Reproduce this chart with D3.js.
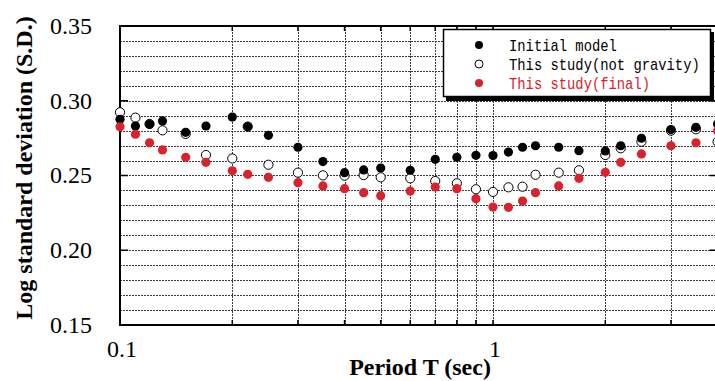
<!DOCTYPE html>
<html>
<head>
<meta charset="utf-8">
<script src="https://cdn.jsdelivr.net/npm/d3@7"></script>
<style>
  body { margin: 0; background: #fff; }
  svg { display: block; }
</style>
</head>
<body>
<svg id="chart"></svg>
<script>
// periods (sec) and log standard deviations
const periods = [0.1, 0.11, 0.12, 0.13, 0.15, 0.17, 0.2, 0.22, 0.25, 0.3, 0.35, 0.4, 0.45, 0.5, 0.6,
  0.7, 0.8, 0.9, 1.0, 1.1, 1.2, 1.3, 1.5, 1.7, 2.0, 2.2, 2.5, 3.0, 3.5, 4.0];
const initialModel = [0.2876, 0.2831, 0.2842, 0.2865, 0.2789, 0.2831, 0.2891, 0.2827, 0.2769, 0.2689,
  0.2593, 0.2519, 0.2537, 0.2550, 0.2535, 0.2608, 0.2622, 0.2635, 0.2633, 0.2657, 0.2689, 0.2699,
  0.2689, 0.2666, 0.2664, 0.2699, 0.2749, 0.2807, 0.2822, 0.2845];
const notGravity = [0.2923, 0.2887, 0.2845, 0.2802, 0.2778, 0.2637, 0.2614, 0.2827, 0.2572, 0.2519,
  0.2501, 0.2499, 0.2503, 0.2488, 0.2481, 0.2463, 0.2448, 0.2408, 0.2390, 0.2421, 0.2425, 0.2505,
  0.2519, 0.2535, 0.2637, 0.2682, 0.2726, 0.2800, 0.2809, 0.2726];
const finalModel = [0.2826, 0.2776, 0.2719, 0.2671, 0.2622, 0.2588, 0.2531, 0.2508, 0.2488, 0.2452,
  0.2430, 0.2412, 0.2385, 0.2365, 0.2396, 0.2423, 0.2412, 0.2345, 0.2289, 0.2287, 0.2329, 0.2385,
  0.2430, 0.2481, 0.2521, 0.2588, 0.2644, 0.2699, 0.2719, 0.2798];

const xGrid = [0.2, 0.3, 0.4, 0.5, 0.6, 0.7, 0.8, 0.9, 1, 2, 3];
const xTickLabels = [0.1, 1];
const yTicks = [0.15, 0.20, 0.25, 0.30, 0.35];
const legendLabels = ["Initial model", "This study(not gravity)", "This study(final)"];

const width = 715;
const height = 381;
const red = "#d9222b";

const svg = d3.select("#chart")
  .attr("width", width)
  .attr("height", height)
  .attr("viewBox", [0, 0, width, height]);

const mLeft = 120, mTop = 26, mBottom = 325;
const decade = 373;
const x = d3.scaleLog().domain([0.1, 4]).range([mLeft, mLeft + decade * Math.log10(40)]);
const y = d3.scaleLinear().domain([0.15, 0.35]).range([mBottom, mTop]);
const mRight = x(4);

// grid
const grid = svg.append("g")
  .attr("stroke", "#3a3a3a")
  .attr("stroke-width", 1)
  .attr("stroke-dasharray", "2,1");

grid.selectAll(".hg")
  .data(d3.range(16, 35).map(d => d / 100))
  .join("line")
  .attr("x1", mLeft).attr("x2", mRight)
  .attr("y1", d => Math.round(y(d)) + 0.5)
  .attr("y2", d => Math.round(y(d)) + 0.5);

grid.selectAll(".vg")
  .data(xGrid)
  .join("line")
  .attr("x1", d => Math.round(x(d)) + 0.5)
  .attr("x2", d => Math.round(x(d)) + 0.5)
  .attr("y1", mTop).attr("y2", mBottom);

// frame
const frame = svg.append("g").attr("stroke", "#000").attr("fill", "none");
frame.append("rect")
  .attr("x", mLeft).attr("y", mTop)
  .attr("width", mRight - mLeft).attr("height", mBottom - mTop)
  .attr("stroke-width", 2);

// inward ticks
frame.selectAll(".yt")
  .data(yTicks)
  .join("path")
  .attr("stroke-width", 1.5)
  .attr("d", d => `M${mLeft},${y(d)}h8M${mRight},${y(d)}h-8`);

frame.selectAll(".xt")
  .data(xGrid)
  .join("path")
  .attr("stroke-width", 1.5)
  .attr("d", d => `M${x(d)},${mBottom}v-5M${x(d)},${mTop}v5`);

// tick labels
svg.append("g")
  .attr("font-family", "'Liberation Serif', 'Times New Roman', serif")
  .attr("font-size", 24)
  .attr("text-anchor", "end")
  .selectAll("text")
  .data(yTicks)
  .join("text")
  .attr("x", 92)
  .attr("y", d => y(d))
  .attr("dy", "0.33em")
  .text(d => d3.format(".2f")(d));

svg.append("g")
  .attr("font-family", "'Liberation Serif', 'Times New Roman', serif")
  .attr("font-size", 24)
  .attr("text-anchor", "middle")
  .selectAll("text")
  .data(xTickLabels)
  .join("text")
  .attr("x", d => x(d) + 2)
  .attr("y", 357)
  .text(d => d);

// axis titles
svg.append("text")
  .attr("x", 420).attr("y", 375)
  .attr("text-anchor", "middle")
  .attr("font-family", "'Liberation Serif', 'Times New Roman', serif")
  .attr("font-weight", "bold")
  .attr("font-size", 24)
  .text("Period T (sec)");

svg.append("text")
  .attr("transform", "translate(32,168) rotate(-90)")
  .attr("text-anchor", "middle")
  .attr("font-family", "'Liberation Serif', 'Times New Roman', serif")
  .attr("font-weight", "bold")
  .attr("font-size", 24)
  .text("Log standard deviation (S.D.)");

// points
const plot = svg.append("g");
const r = 4.6;

plot.append("g").selectAll("circle")
  .data(periods.map((p, i) => [p, notGravity[i]]))
  .join("circle")
  .attr("cx", d => x(d[0])).attr("cy", d => y(d[1])).attr("r", r)
  .attr("fill", "#fff").attr("stroke", "#000").attr("stroke-width", 1);

plot.append("g").selectAll("circle")
  .data(periods.map((p, i) => [p, initialModel[i]]))
  .join("circle")
  .attr("cx", d => x(d[0])).attr("cy", d => y(d[1])).attr("r", r)
  .attr("fill", "#000");

plot.append("g").selectAll("circle")
  .data(periods.map((p, i) => [p, finalModel[i]]))
  .join("circle")
  .attr("cx", d => x(d[0])).attr("cy", d => y(d[1])).attr("r", r)
  .attr("fill", red);

// legend
const legend = svg.append("g");
legend.append("rect")
  .attr("x", 446).attr("y", 32).attr("width", 268).attr("height", 69)
  .attr("fill", "#000");
legend.append("rect")
  .attr("x", 443.5).attr("y", 29.5).attr("width", 267).attr("height", 67)
  .attr("fill", "#fff").attr("stroke", "#000").attr("stroke-width", 1.5);

const styles = [
  {fill: "#000", stroke: "none", text: "#000"},
  {fill: "#fff", stroke: "#000", text: "#000"},
  {fill: red, stroke: "none", text: red}
];

const item = legend.selectAll(".item")
  .data(legendLabels)
  .join("g")
  .attr("transform", (d, i) => `translate(0,${45 + i * 19})`);

item.append("circle")
  .attr("cx", 479).attr("cy", 0).attr("r", 4)
  .attr("fill", (d, i) => styles[i].fill)
  .attr("stroke", (d, i) => styles[i].stroke);

// narrow monospace, like the half-width font of the original
item.append("text")
  .attr("transform", "translate(509,6) scale(0.865,1)")
  .attr("font-family", "'Liberation Mono', 'DejaVu Sans Mono', monospace")
  .attr("font-size", 16)
  .attr("fill", (d, i) => styles[i].text)
  .text(d => d);
</script>
</body>
</html>
